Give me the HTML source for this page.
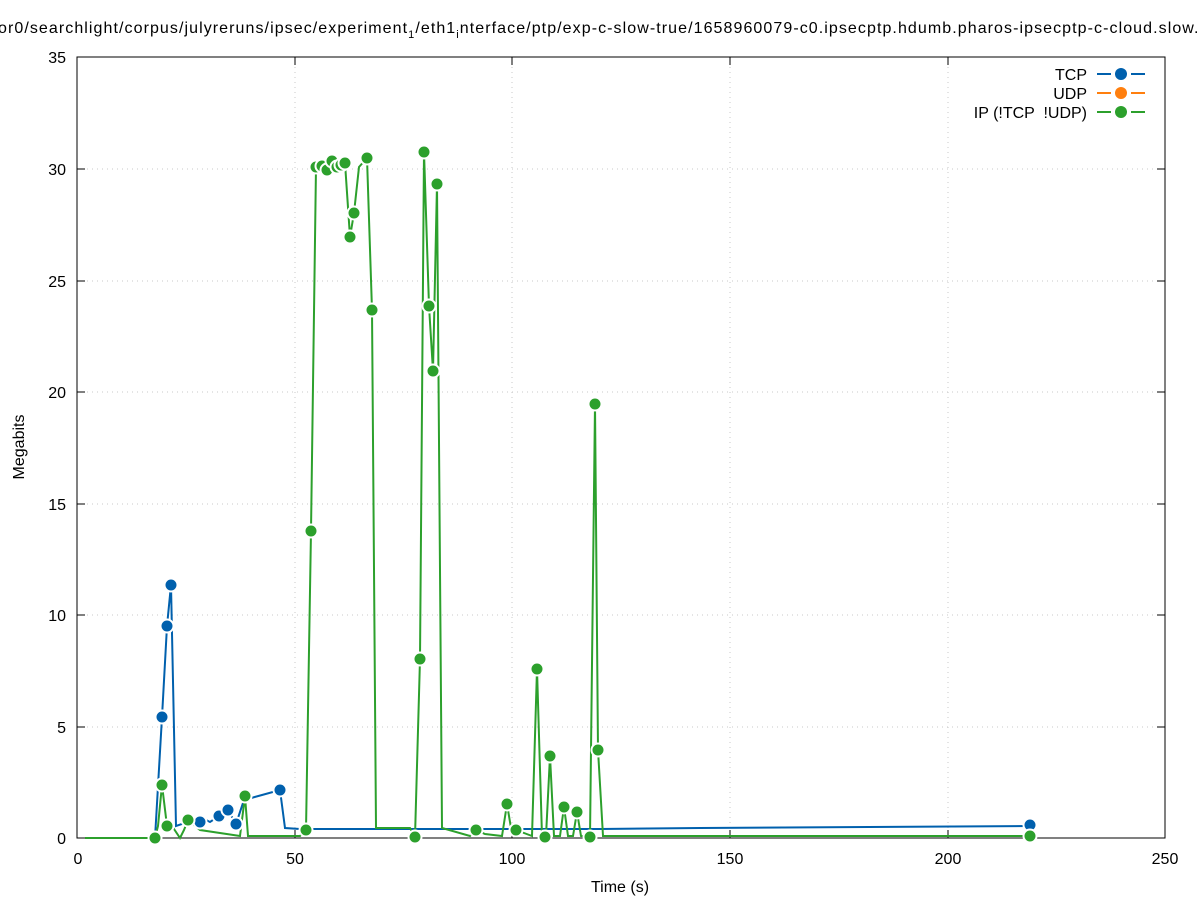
<!DOCTYPE html>
<html><head><meta charset="utf-8"><style>body{margin:0;background:#fff}svg{display:block;font-family:"Liberation Sans","DejaVu Sans",sans-serif}</style></head><body>
<svg width="1197" height="900" viewBox="0 0 1197 900">
<text x="-2" y="33" font-size="16" fill="#000" textLength="1206" lengthAdjust="spacing">or0/searchlight/corpus/julyreruns/ipsec/experiment<tspan font-size="11" dy="5">1</tspan><tspan dy="-5">/eth1</tspan><tspan font-size="11" dy="5">i</tspan><tspan dy="-5">nterface/ptp/exp-c-slow-true/1658960079-c0.ipsecptp.hdumb.pharos-ipsecptp-c-cloud.slow.t</tspan></text>
<g stroke="#c8c8c8" stroke-dasharray="1,4" stroke-width="1">
<line x1="77" y1="727" x2="1165" y2="727"/><line x1="77" y1="615" x2="1165" y2="615"/><line x1="77" y1="504" x2="1165" y2="504"/><line x1="77" y1="392" x2="1165" y2="392"/><line x1="77" y1="281" x2="1165" y2="281"/><line x1="77" y1="169" x2="1165" y2="169"/><line x1="77" y1="57" x2="1165" y2="57"/>
<line x1="295" y1="57" x2="295" y2="838"/><line x1="512" y1="57" x2="512" y2="838"/><line x1="730" y1="57" x2="730" y2="838"/><line x1="948" y1="57" x2="948" y2="838"/>
</g>
<g stroke="#000" stroke-width="1">
<rect x="77" y="57" width="1088" height="781" fill="none"/>
<path d="M77 727h8M77 615h8M77 504h8M77 392h8M77 281h8M77 169h8M1165 727h-8M1165 615h-8M1165 504h-8M1165 392h-8M1165 281h-8M1165 169h-8M295 838v-8M512 838v-8M730 838v-8M948 838v-8M295 57v8M512 57v8M730 57v8M948 57v8"/>
</g>
<g font-size="16" text-anchor="end" fill="#000">
<text x="66" y="844">0</text><text x="66" y="733">5</text><text x="66" y="621">10</text><text x="66" y="510">15</text><text x="66" y="398">20</text><text x="66" y="287">25</text><text x="66" y="175">30</text><text x="66" y="63">35</text>
</g>
<g font-size="16" text-anchor="middle" fill="#000">
<text x="78" y="864">0</text><text x="295" y="864">50</text><text x="512" y="864">100</text><text x="730" y="864">150</text><text x="948" y="864">200</text><text x="1165" y="864">250</text>
<text x="620" y="892">Time (s)</text>
<text transform="translate(24,447) rotate(-90)">Megabits</text>
</g>
<path d="M85 838H155L162 717L167 626L171 585L176 826L188 822L200 817L210 822L219 816L228 810L236 824L244 800L262 795L280 790L285 828L300 829L400 829L600 829L700 828L1030 826" fill="none" stroke="#0060ad" stroke-width="2"/>
<path d="M85 838H155L158 826L162 785L167 826L172 826L180 838L184 830L188 820L200 830L240 836L245 796L248 836L300 836L306 830L311 531L316 167L322 166L327 170L332 161L337 167L341 165L345 163L350 237L354 213L359 167L367 158L372 310L376 828L410 828L415 837L420 659L424 152L429 306L433 371L437 184L442 828L470 836L476 830L485 834L502 836L507 804L512 834L516 830L532 836L537 669L542 836L546 836L550 756L554 836L560 836L564 807L568 836L573 836L577 812L581 836L590 837L595 404L598 750L603 836L1030 836" fill="none" stroke="#2ca02c" stroke-width="2"/>
<g fill="#0060ad" stroke="#fff" stroke-width="2">
<circle cx="162" cy="717" r="6.5"/><circle cx="167" cy="626" r="6.5"/><circle cx="171" cy="585" r="6.5"/><circle cx="219" cy="816" r="6.5"/><circle cx="228" cy="810" r="6.5"/><circle cx="236" cy="824" r="6.5"/><circle cx="280" cy="790" r="6.5"/><circle cx="1030" cy="825" r="6.5"/><circle cx="200" cy="822" r="6.5"/>
</g>
<g fill="#2ca02c" stroke="#fff" stroke-width="2">
<circle cx="155" cy="838" r="6.5"/><circle cx="162" cy="785" r="6.5"/><circle cx="167" cy="826" r="6.5"/><circle cx="188" cy="820" r="6.5"/><circle cx="245" cy="796" r="6.5"/><circle cx="306" cy="830" r="6.5"/><circle cx="311" cy="531" r="6.5"/><circle cx="316" cy="167" r="6.5"/><circle cx="322" cy="166" r="6.5"/><circle cx="327" cy="170" r="6.5"/><circle cx="332" cy="161" r="6.5"/><circle cx="337" cy="167" r="6.5"/><circle cx="341" cy="165" r="6.5"/><circle cx="345" cy="163" r="6.5"/><circle cx="350" cy="237" r="6.5"/><circle cx="354" cy="213" r="6.5"/><circle cx="367" cy="158" r="6.5"/><circle cx="372" cy="310" r="6.5"/><circle cx="415" cy="837" r="6.5"/><circle cx="420" cy="659" r="6.5"/><circle cx="424" cy="152" r="6.5"/><circle cx="429" cy="306" r="6.5"/><circle cx="433" cy="371" r="6.5"/><circle cx="437" cy="184" r="6.5"/><circle cx="476" cy="830" r="6.5"/><circle cx="507" cy="804" r="6.5"/><circle cx="516" cy="830" r="6.5"/><circle cx="537" cy="669" r="6.5"/><circle cx="545" cy="837" r="6.5"/><circle cx="550" cy="756" r="6.5"/><circle cx="564" cy="807" r="6.5"/><circle cx="577" cy="812" r="6.5"/><circle cx="590" cy="837" r="6.5"/><circle cx="595" cy="404" r="6.5"/><circle cx="598" cy="750" r="6.5"/><circle cx="1030" cy="836" r="6.5"/>
</g>
<g font-size="16" text-anchor="end" fill="#000">
<text x="1087" y="80">TCP</text><text x="1087" y="99">UDP</text><text x="1087" y="118">IP (!TCP &#160;!UDP)</text>
</g>
<g stroke-width="2">
<path d="M1097 74h14M1131 74h14" stroke="#0060ad"/><circle cx="1121" cy="74" r="6" fill="#0060ad"/>
<path d="M1097 93h14M1131 93h14" stroke="#ff7f0e"/><circle cx="1121" cy="93" r="6" fill="#ff7f0e"/>
<path d="M1097 112h14M1131 112h14" stroke="#2ca02c"/><circle cx="1121" cy="112" r="6" fill="#2ca02c"/>
</g>
</svg>
</body></html>
